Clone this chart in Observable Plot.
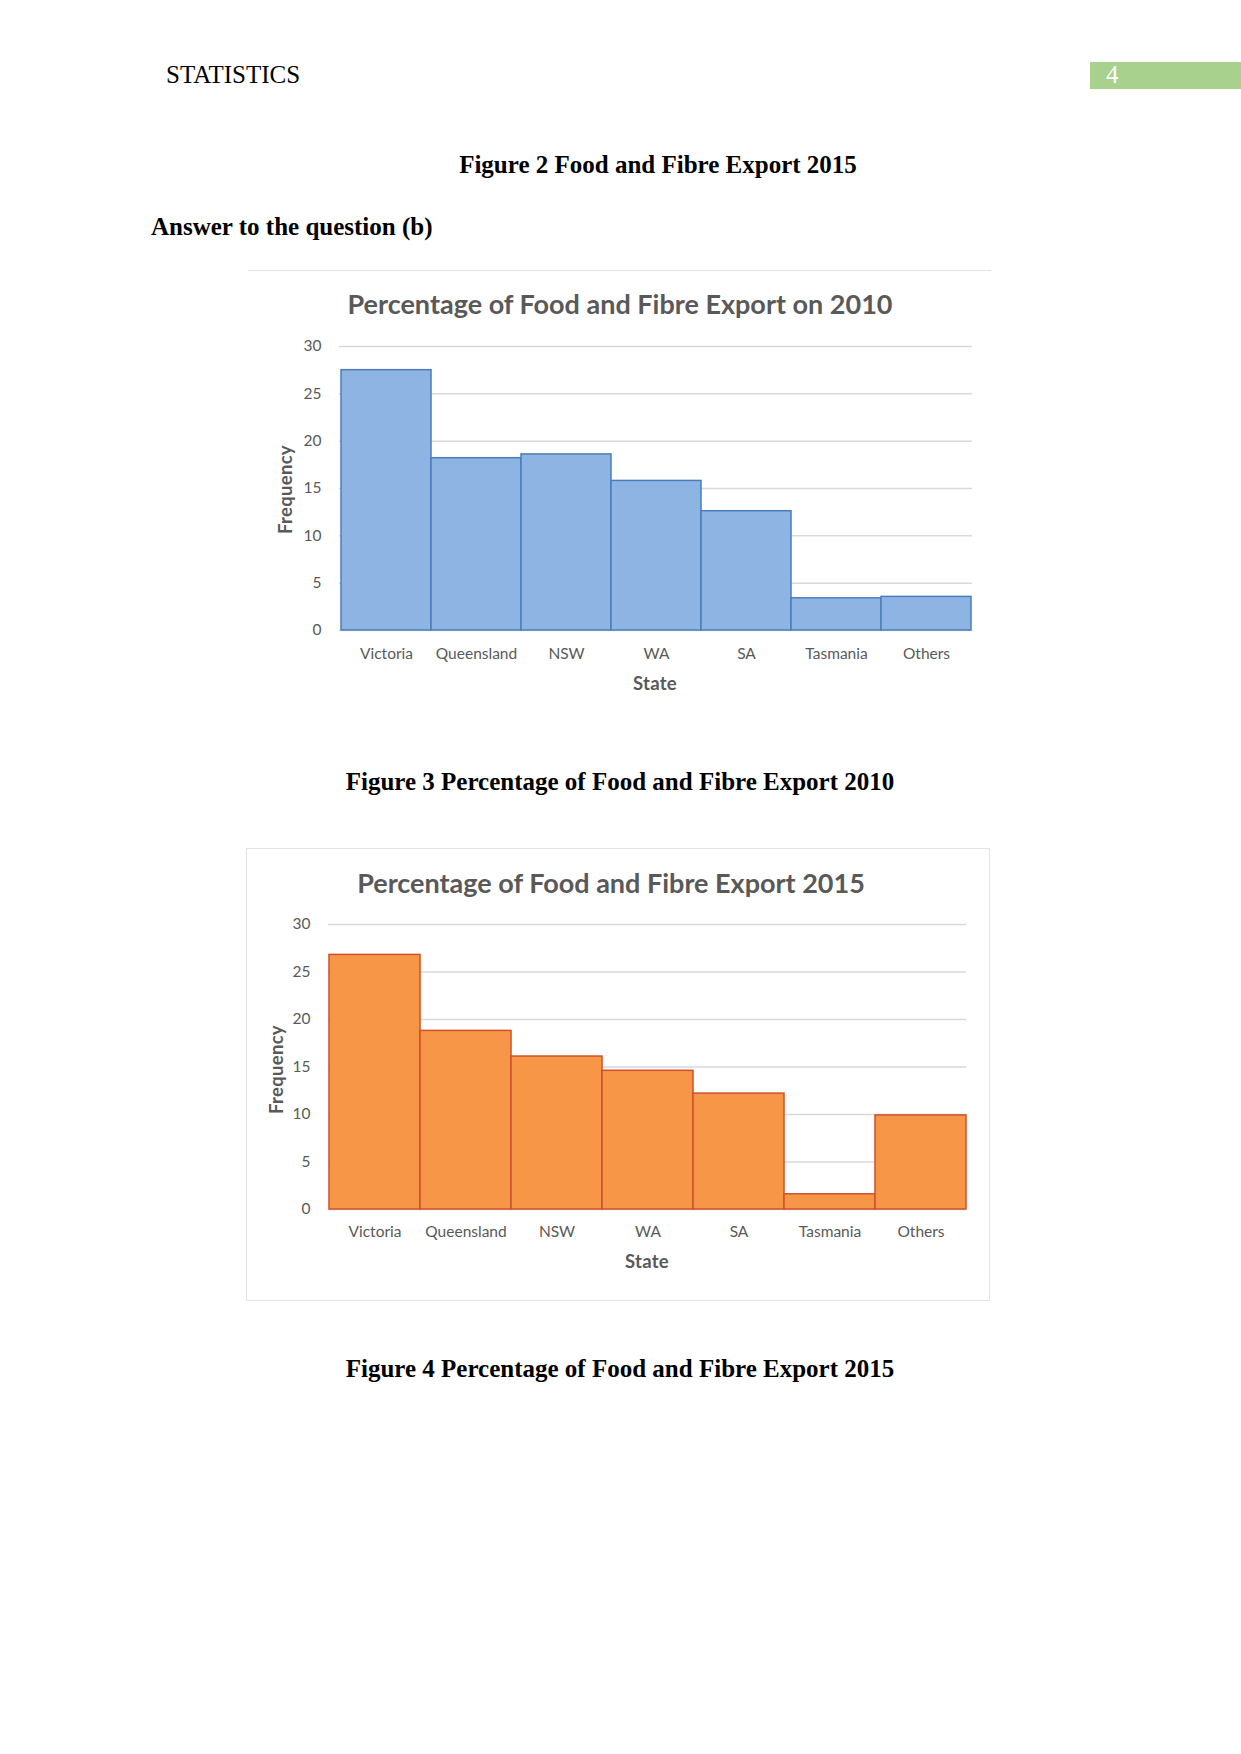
<!DOCTYPE html>
<html>
<head>
<meta charset="utf-8">
<script src="https://cdn.jsdelivr.net/npm/d3@7"></script>
<script src="https://cdn.jsdelivr.net/npm/@observablehq/plot@0.6"></script>
<style>
  html, body { margin: 0; padding: 0; background: #fff; }
  body { width: 1241px; height: 1754px; position: relative; overflow: hidden; }
  .abs { position: absolute; white-space: nowrap; }
  .serif { font-family: "Liberation Serif", "Times New Roman", serif; font-size: 25px; line-height: 25px; color: #000; }
  .bold { font-weight: bold; }
  .ctitle { font-family: Lato, sans-serif; font-weight: bold; font-size: 27px; line-height: 27px; color: #595959; text-align: center; width: 1000px; }
  .atitle { font-family: Lato, sans-serif; font-weight: bold; font-size: 18.5px; line-height: 19px; color: #595959; text-align: center; width: 200px; letter-spacing: 0.3px; }
  .chart { position: absolute; }
</style>
</head>
<body>
<div class="abs serif" style="left:166px; top:62px;">STATISTICS</div>
<div class="abs" style="left:1090px; top:62px; width:151px; height:27px; background:#a9d18e;"></div>
<div class="abs serif" style="left:1106px; top:62px; color:#fff;">4</div>

<div class="abs serif bold" style="left:158px; top:152px; width:1000px; text-align:center;">Figure 2 Food and Fibre Export 2015</div>
<div class="abs serif bold" style="left:151px; top:214px;">Answer to the question (b)</div>

<!-- chart 1 frame -->
<div class="abs" style="left:248px; top:270px; width:743px; height:0; border-top:1.5px solid #e3e3e3;"></div>
<div class="abs ctitle" style="left:120px; top:290px;">Percentage of Food and Fibre Export on 2010</div>
<div id="c1" class="chart" style="left:248px; top:320px;"></div>
<div class="abs atitle" style="left:555px; top:674px;">State</div>
<div class="abs atitle" style="left:185px; top:480px; transform:rotate(-90deg);">Frequency</div>

<div class="abs serif bold" style="left:120px; top:769px; width:1000px; text-align:center;">Figure 3 Percentage of Food and Fibre Export 2010</div>

<!-- chart 2 frame -->
<div class="abs" style="left:246px; top:848px; width:742px; height:451px; border:1.5px solid #e3e3e3;"></div>
<div class="abs ctitle" style="left:111px; top:869px;">Percentage of Food and Fibre Export 2015</div>
<div id="c2" class="chart" style="left:246px; top:898px;"></div>
<div class="abs atitle" style="left:547px; top:1252px;">State</div>
<div class="abs atitle" style="left:176px; top:1060px; transform:rotate(-90deg);">Frequency</div>

<div class="abs serif bold" style="left:120px; top:1356px; width:1000px; text-align:center;">Figure 4 Percentage of Food and Fibre Export 2015</div>

<script>
const states = ["Victoria", "Queensland", "NSW", "WA", "SA", "Tasmania", "Others"];
const values2010 = [27.5, 18.2, 18.6, 15.8, 12.6, 3.4, 3.55];
const values2015 = [26.8, 18.8, 16.1, 14.6, 12.2, 1.6, 9.9];
const yTicks = [0, 5, 10, 15, 20, 25, 30];

function chart(values, opts) {
  const data = states.map((s, i) => ({state: s, value: values[i]}));
  return Plot.plot({
    width: opts.width, height: opts.height,
    marginLeft: opts.ml, marginRight: opts.mr, marginTop: opts.mt, marginBottom: opts.mb,
    style: {fontFamily: "Lato, sans-serif", fontSize: "15.5px", color: "#595959", background: "transparent", overflow: "visible"},
    x: {domain: states, padding: 0, label: null, tickSize: 0, tickPadding: opts.xpad},
    y: {domain: [0, 30], ticks: yTicks, label: null, tickSize: 0, tickPadding: 18},
    marks: [
      Plot.ruleY(yTicks, {stroke: "#d9d9d9", strokeWidth: 1.5}),
      Plot.barY(data, {x: "state", y: "value", fill: opts.fill, stroke: opts.stroke, strokeWidth: 1.5})
    ]
  });
}

document.getElementById("c1").appendChild(chart(values2010, {
  width: 743, height: 380, ml: 91, mr: 19, mt: 26, mb: 70, xpad: 17, fill: "#8eb4e3", stroke: "#4a7ebb"
}));
document.getElementById("c2").appendChild(chart(values2015, {
  width: 742, height: 392, ml: 82, mr: 22, mt: 26, mb: 81, xpad: 16, fill: "#f79646", stroke: "#d0502a"
}));
</script>
</body>
</html>
